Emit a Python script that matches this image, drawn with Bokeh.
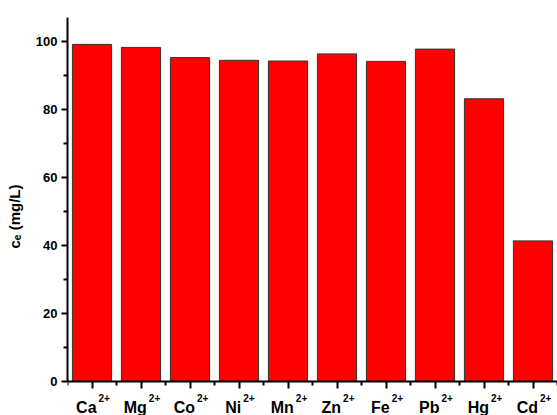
from bokeh.plotting import figure
from bokeh.models import Range1d, FixedTicker, Label
from bokeh.embed import file_html
from bokeh.resources import INLINE

# Metal ions (symbol + charge) and their equilibrium concentrations
symbols = ["Ca", "Mg", "Co", "Ni", "Mn", "Zn", "Fe", "Pb", "Hg", "Cd"]
charges = ["2+"] * len(symbols)
ce_values = [99.1, 98.2, 95.2, 94.4, 94.2, 96.3, 94.1, 97.7, 83.1, 41.3]
y_ticks = [0, 20, 40, 60, 80, 100]
y_minor_ticks = [10, 30, 50, 70, 90]
y_top = 107

positions = list(range(1, len(symbols) + 1))

# the frame runs to the bottom edge so the ion labels can sit under the axis
px_per_unit = 3.4
frame_h = 415 - 17
y_bottom = y_top - frame_h / px_per_unit

p = figure(
    width=557, height=415,
    output_backend="svg", toolbar_location=None,
    x_axis_location="above",
    x_range=Range1d(0.5, len(symbols) + 0.5),
    y_range=Range1d(y_bottom, y_top),
    min_border_left=67, min_border_right=0,
    min_border_top=17, min_border_bottom=0,
)
p.outline_line_color = None
p.xgrid.visible = False
p.ygrid.visible = False
p.background_fill_color = "white"
p.border_fill_color = "white"

p.vbar(x=positions, top=ce_values, width=0.8, bottom=0,
       fill_color="#FF0000", line_color="#333333", line_width=1)

font = "Liberation Sans"

# x axis drawn at c = 0 with ticks pointing down: bar centres and gaps
xa = p.xaxis[0]
xa.fixed_location = 0
xa.ticker = FixedTicker(ticks=positions,
                        minor_ticks=[i + 0.5 for i in range(0, len(symbols) + 1)])
xa.major_label_overrides = {i: "" for i in positions}
xa.major_label_text_font_size = "0px"
xa.major_label_standoff = 0
xa.axis_line_width = 2
xa.major_tick_line_width = 2
xa.minor_tick_line_width = 2
xa.major_tick_in = 7
xa.major_tick_out = 0
xa.minor_tick_in = 4
xa.minor_tick_out = 0

# ion labels with raised charge, centred under each bar
main_size, sup_size = 16, 10
# Arial/Liberation bold advance widths (em units)
adv = {"C": .722, "a": .556, "M": .833, "g": .611, "o": .611, "N": .722,
       "i": .278, "n": .611, "Z": .611, "F": .611, "e": .556, "P": .667,
       "b": .611, "H": .722, "d": .611, "2": .556, "+": .584}
for pos, sym, chg in zip(positions, symbols, charges):
    w_main = sum(adv[c] for c in sym) * main_size
    w_sup = sum(adv[c] for c in chg) * sup_size
    gap = 2
    start = -(w_main + gap + w_sup) / 2 + 1
    p.add_layout(Label(x=pos, y=0, y_offset=-26, x_offset=start, text=sym,
                       text_align="left", text_baseline="alphabetic",
                       text_font=font, text_font_style="bold",
                       text_font_size=f"{main_size}px", text_color="black"))
    p.add_layout(Label(x=pos, y=0, y_offset=-16.5, x_offset=start + w_main + gap,
                       text=chg, text_align="left", text_baseline="alphabetic",
                       text_font=font, text_font_style="bold",
                       text_font_size=f"{sup_size}px", text_color="black"))

# y axis, limited to the data span
ya = p.yaxis[0]
ya.bounds = (0, y_top)
ya.ticker = FixedTicker(ticks=y_ticks, minor_ticks=y_minor_ticks)
ya.axis_label = "cₑ (mg/L)"
ya.axis_label_text_font = font
ya.axis_label_text_font_style = "bold"
ya.axis_label_text_font_size = "15px"
ya.axis_label_text_color = "black"
ya.axis_label_standoff = 10
ya.axis_line_width = 2
ya.major_tick_line_width = 2
ya.minor_tick_line_width = 2
ya.major_tick_in = 0
ya.major_tick_out = 6
ya.minor_tick_in = 0
ya.minor_tick_out = 4
ya.major_label_standoff = 4
ya.major_label_text_font = font
ya.major_label_text_font_style = "bold"
ya.major_label_text_font_size = "13px"
ya.major_label_text_color = "black"

open("out.html", "w").write(file_html(p, INLINE))
